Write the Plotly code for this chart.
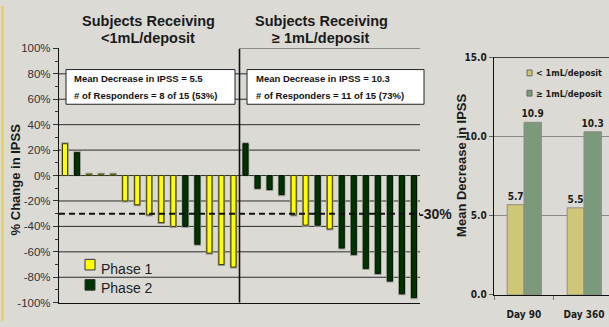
import plotly.graph_objects as go

W, H = 609, 327

# Per-subject % change in IPSS, ordered within each dose group
low_dose_change = [25, 18, 1, 1, 1, -20, -23, -31, -37, -40, -40, -54, -61, -70, -72]
low_dose_phase = [1, 2, 1, 1, 1, 1, 1, 1, 1, 1, 2, 2, 1, 1, 1]
high_dose_change = [25, -10, -11, -15, -31, -39, -39, -42, -57, -62, -73, -77, -83, -93, -96]
high_dose_phase = [2, 2, 2, 2, 1, 1, 2, 1, 2, 2, 2, 2, 2, 2, 2]

responder_threshold = -30
pct_ticks = [100, 80, 60, 40, 20, 0, -20, -40, -60, -80, -100]
pct_tick_labels = ["100%", "80%", "60%", "40%", "20%", "0%",
                   "-20%", "-40%", "-60%", "-80%", "-100%"]
pct_minor = [90, 70, 50, 30, 10, -10, -30, -50, -70, -90]
pct_grid = [80, 60, 40, 20, 0, -20, -40, -60, -80]

group_titles = [("Subjects Receiving", "&lt;1mL/deposit"),
                ("Subjects Receiving", "≥ 1mL/deposit")]
group_stats = [("Mean Decrease in IPSS = 5.5", "# of Responders = 8 of 15 (53%)"),
               ("Mean Decrease in IPSS = 10.3", "# of Responders = 11 of 15 (73%)")]

# Mean decrease in IPSS by visit
visits = ["Day 90", "Day 360"]
mean_low = [5.7, 5.5]
mean_high = [10.9, 10.3]
mean_ticks = [0, 5, 10, 15]
mean_tick_labels = ["0.0", "5.0", "10.0", "15.0"]

BG = "#DCDAD5"
YELLOW = "#FFFF00"
DKGREEN = "#003300"
HALO = "#9D9B95"
KHAKI = "#CFC777"
SAGE = "#7B9A7B"
ARIAL = "Liberation Sans, Arial, sans-serif"
COND = "DejaVu Sans Condensed, Liberation Sans Narrow, sans-serif"


def fx(px):
    return px / W


def fy(py):
    return 1 - py / H


values = low_dose_change + high_dose_change
phases = low_dose_phase + high_dose_phase
slots = list(range(len(values)))
n_low = len(low_dose_change)

fig = go.Figure()

# soft grey halo behind every waterfall bar
fig.add_trace(go.Bar(
    x=slots, y=[v + (1.2 if v >= 0 else -1.2) for v in values],
    width=0.62, offset=-0.31, marker=dict(color=HALO, line=dict(width=0)),
    xaxis="x", yaxis="y", hoverinfo="skip", showlegend=False))

for ph, col, edge in [(1, YELLOW, "#3a3a00"), (2, DKGREEN, "#001800")]:
    fig.add_trace(go.Bar(
        x=slots, y=[v if p == ph else None for v, p in zip(values, phases)],
        width=0.42, offset=-0.21, name=f"Phase {ph}",
        marker=dict(color=col, line=dict(color=edge, width=1)),
        xaxis="x", yaxis="y", showlegend=False))

# mean decrease bars
for vals, col, off, wid in [(mean_low, KHAKI, -0.28, 0.28), (mean_high, SAGE, 0.0, 0.29)]:
    fig.add_trace(go.Bar(
        x=visits, y=vals, width=wid, offset=off,
        marker=dict(color=col, line=dict(color="#8E8E86", width=1)),
        text=[f"{v:.1f}" for v in vals], textposition="outside", cliponaxis=False,
        constraintext="none",
        textfont=dict(family=COND, size=10, color="#1a1a1a", weight="bold"),
        xaxis="x2", yaxis="y2", showlegend=False))

shapes = []
# horizontal grid of the waterfall panel
for g in pct_grid:
    shapes.append(dict(type="line", xref="x domain", yref="y", x0=0, x1=1, y0=g, y1=g,
                       line=dict(color="#2b2b2b", width=1), layer="below"))
divider = n_low - 0.5
shapes.append(dict(type="line", xref="x", yref="y", x0=divider, x1=len(values) - 0.5,
                   y0=100, y1=100, line=dict(color="#2b2b2b", width=1), layer="below"))
shapes.append(dict(type="line", xref="x", yref="y", x0=divider, x1=divider,
                   y0=-100, y1=100, line=dict(color="#111111", width=1.6), layer="above"))
# responder threshold
shapes.append(dict(type="line", xref="x domain", yref="y", x0=0, x1=1,
                   y0=responder_threshold, y1=responder_threshold,
                   line=dict(color="#111111", width=2, dash="6px,4px"), layer="above"))
# statistics boxes
for (x0, x1) in [(66, 235), (247, 424)]:
    shapes.append(dict(type="rect", xref="paper", yref="paper",
                       x0=fx(x0), x1=fx(x1), y0=fy(102), y1=fy(66),
                       fillcolor="white", line=dict(color="#222222", width=1), layer="above"))
# waterfall legend swatches
for (y0, col) in [(263, YELLOW), (284, DKGREEN)]:
    shapes.append(dict(type="rect", xref="paper", yref="paper",
                       x0=fx(85), x1=fx(95), y0=fy(y0 + 11), y1=fy(y0),
                       fillcolor=col, line=dict(color="#333333", width=1), layer="above"))
# mean-decrease legend swatches
for (y0, col) in [(66.5, KHAKI), (87.5, SAGE)]:
    shapes.append(dict(type="rect", xref="paper", yref="paper",
                       x0=fx(527), x1=fx(532), y0=fy(y0 + 6), y1=fy(y0),
                       fillcolor=col, line=dict(color="#666666", width=1), layer="above"))
# top frame of the mean-decrease panel
shapes.append(dict(type="line", xref="x2 domain", yref="y2", x0=0, x1=1, y0=15, y1=15,
                   line=dict(color="#111111", width=1.2), layer="above"))
# slide edge accent
shapes.append(dict(type="line", xref="paper", yref="paper", x0=fx(2.5), x1=fx(2.5),
                   y0=0, y1=1, line=dict(color="#E4CE4C", width=2)))

annotations = []
for (l1, l2), cx in zip(group_titles, [148, 321]):
    for txt, cy in [(l1, 16), (l2, 33)]:
        annotations.append(dict(text=f"<b>{txt}</b>", xref="paper", yref="paper",
                                x=fx(cx), y=fy(cy), xanchor="center", yanchor="middle",
                                showarrow=False, font=dict(family=ARIAL, size=14.5, color="#1a1a1a")))
for (l1, l2), lx in zip(group_stats, [72, 254]):
    for txt, cy in [(l1, 75), (l2, 93)]:
        annotations.append(dict(text=f"<b>{txt}</b>", xref="paper", yref="paper",
                                x=fx(lx), y=fy(cy), xanchor="left", yanchor="middle",
                                showarrow=False, font=dict(family=ARIAL, size=9.5, color="#111111")))
for txt, cy in [("Phase 1", 272.5), ("Phase 2", 293)]:
    annotations.append(dict(text=txt, xref="paper", yref="paper", x=fx(98.5), y=fy(cy),
                            xanchor="left", yanchor="middle", showarrow=False,
                            font=dict(family=ARIAL, size=14, color="#222222")))
for txt, cy in [("&lt; 1mL/deposit", 69.5), ("≥ 1mL/deposit", 91)]:
    annotations.append(dict(text=f"<b>{txt}</b>", xref="paper", yref="paper", x=fx(534), y=fy(cy),
                            xanchor="left", yanchor="middle", showarrow=False,
                            font=dict(family=COND, size=9, color="#1a1a1a")))
annotations.append(dict(text="<b>% Change in IPSS</b>", xref="paper", yref="paper",
                        x=fx(15), y=fy(180), textangle=-90, showarrow=False,
                        xanchor="center", yanchor="middle",
                        font=dict(family=ARIAL, size=13, color="#1a1a1a")))
annotations.append(dict(text="<b>Mean Decrease in IPSS</b>", xref="paper", yref="paper",
                        x=fx(462), y=fy(166), textangle=-90, showarrow=False,
                        xanchor="center", yanchor="middle",
                        font=dict(family=ARIAL, size=13, color="#1a1a1a")))
annotations.append(dict(text=f"<b>{responder_threshold}%</b>", xref="paper", yref="y",
                        x=fx(416.5), y=responder_threshold, xanchor="left", yanchor="middle",
                        showarrow=False, font=dict(family=ARIAL, size=14, color="#1a1a1a")))

fig.update_layout(
    width=W, height=H, margin=dict(l=0, r=0, t=0, b=0),
    paper_bgcolor=BG, plot_bgcolor=BG, barmode="overlay", showlegend=False,
    shapes=shapes, annotations=annotations,
    xaxis=dict(domain=[fx(59), fx(420)], range=[-0.5, len(values) - 0.5],
               showticklabels=False, ticks="", showgrid=False, zeroline=False,
               showline=True, linecolor="#111111", linewidth=1.2, fixedrange=True),
    yaxis=dict(domain=[fy(308), fy(44)], range=[-100, 100],
               tickmode="array", tickvals=pct_ticks, ticktext=pct_tick_labels,
               ticks="outside", ticklen=5, tickcolor="#333333", tickwidth=1,
               minor=dict(tickmode="array", tickvals=pct_minor, ticks="outside",
                          ticklen=3, tickcolor="#333333", showgrid=False),
               showgrid=False, zeroline=False, showline=True, linecolor="#111111", linewidth=1.2,
               tickfont=dict(family=ARIAL, size=11.5, color="#333333")),
    xaxis2=dict(domain=[fx(494), 1], type="category", range=[-0.5, 1.417],
                tickson="boundaries", ticks="outside", ticklen=4, tickcolor="#777777",
                ticklabelstandoff=10, showgrid=False, zeroline=False,
                showline=True, linecolor="#111111", linewidth=1.4, anchor="y2",
                tickfont=dict(family=COND, size=10, color="#1a1a1a", weight="bold")),
    yaxis2=dict(domain=[fy(300), fy(53.3)], range=[0, 15], anchor="x2",
                tickmode="array", tickvals=mean_ticks, ticktext=mean_tick_labels,
                ticks="outside", ticklen=4, tickcolor="#666666",
                showgrid=True, gridcolor="#8A8A8A", gridwidth=1, zeroline=False,
                showline=True, linecolor="#111111", linewidth=1.4,
                tickfont=dict(family=COND, size=10, color="#1a1a1a", weight="bold")),
)

fig.write_html("out.html")
